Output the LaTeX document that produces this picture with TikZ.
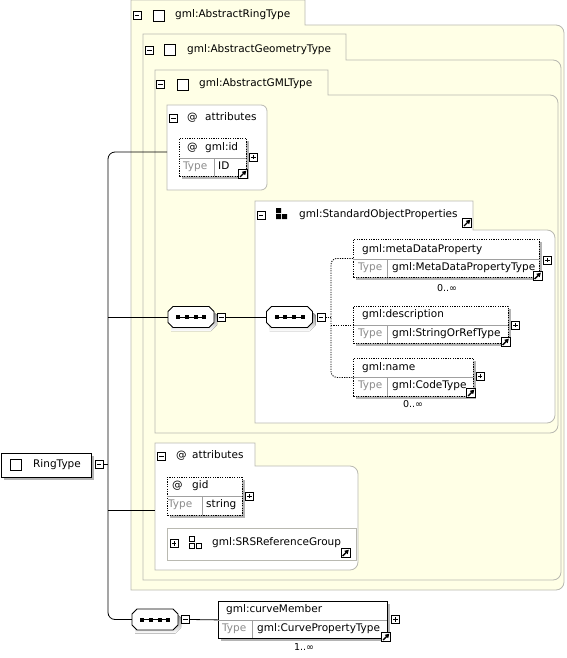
\documentclass[tikz,border=0pt]{standalone}
\usepackage{fontspec}
\setmainfont{DejaVu Sans}
\usetikzlibrary{shadows,arrows.meta}

\definecolor{panelfill}{HTML}{FFFFE6}
\definecolor{paneledge}{HTML}{B9B9B1}
\definecolor{shade}{HTML}{B4B4B4}
\definecolor{typegray}{HTML}{8C8C8C}
\definecolor{celledge}{HTML}{A0A0A0}

\tikzset{
  txt/.style={font=\fontsize{10.5}{12}\selectfont, inner sep=0pt, anchor=west, text height=7.5pt, text depth=2pt},
  typetxt/.style={txt, text=typegray},
  occurs/.style={txt, anchor=center, font=\fontsize{9.5}{11}\selectfont},
  panel/.style={draw=paneledge, fill=panelfill, line width=0.8pt},
  attrpanel/.style={draw=paneledge, fill=white, line width=0.8pt},
  dropshade/.style={drop shadow={shadow xshift=3pt, shadow yshift=-3pt, fill=shade, opacity=1}},
  elem/.style={draw, fill=white, line width=0.8pt, dash pattern=on 1.2pt off 1.2pt, anchor=north west, inner sep=0pt, dropshade},
  elemsolid/.style={elem, solid},
  cell/.style={draw=celledge, line width=0.8pt},
  chk/.style={draw, fill=white, line width=0.8pt, minimum size=11pt, inner sep=0pt},
  btnbox/.style={draw, fill=white, line width=0.6pt, minimum size=8pt, inner sep=0pt},
  minusbtn/.style={btnbox, path picture={\draw[line width=0.8pt] ([xshift=1.8pt]path picture bounding box.west) -- ([xshift=-1.8pt]path picture bounding box.east);}},
  plusbtn/.style={btnbox, path picture={\draw[line width=0.8pt] ([xshift=1.8pt]path picture bounding box.west) -- ([xshift=-1.8pt]path picture bounding box.east) ([yshift=-1.8pt]path picture bounding box.north) -- ([yshift=1.8pt]path picture bounding box.south);}},
  linkbtn/.style={draw, fill=white, line width=0.8pt, minimum size=9pt, inner sep=0pt, path picture={\draw[line width=1.4pt, -{Triangle[length=4pt,width=4.5pt]}] ([shift={(1.6pt,1.6pt)}]path picture bounding box.south west) -- ([shift={(-1.2pt,-1.2pt)}]path picture bounding box.north east);}},
  compositor/.pic={
    \fill[shade] (-20,-7) -- (20,-7) -- (26,-2) -- (26,8) -- (20,14) -- (-20,14) -- (-20,-7) -- cycle;
    \draw[fill=white, line width=0.8pt] (-18,-10.5) -- (18,-10.5) -- (23,-5.5) -- (23,5.5) -- (18,10.5) -- (-18,10.5) -- (-23,5.5) -- (-23,-5.5) -- cycle;
    \draw[line width=0.9pt] (-15,0) -- (15,0);
    \foreach \d in {-13,-4.5,4.5,13} \fill (\d-2,-2) rectangle +(4,4);
    \node[minimum width=46pt, minimum height=21pt, inner sep=0pt] (-box) at (0,0) {};
  },
  conn/.style={draw, line width=0.8pt},
  dotconn/.style={conn, dash pattern=on 1.2pt off 1.2pt},
}

\begin{document}
\begin{tikzpicture}[x=1pt, y=-1pt]
\useasboundingbox (0,0) rectangle (566,658);

% type panels
\draw[panel] (131,590) -- (131,0) -- (305,0) -- (305,25) -- (400,25) [rounded corners=8pt] -- (564,25) -- (564,590) -- (400,590) [sharp corners] -- cycle;
\draw[panel] (143,580) -- (143,34) -- (346,34) -- (346,60) -- (400,60) [rounded corners=8pt] -- (561,60) -- (561,580) -- (400,580) [sharp corners] -- cycle;
\draw[panel] (155,433) -- (155,70) -- (328,70) -- (328,95) -- (400,95) [rounded corners=8pt] -- (558,95) -- (558,433) -- (400,433) [sharp corners] -- cycle;
\draw[attrpanel] (255,423) -- (255,201) -- (473,201) -- (473,230) -- (500,230) [rounded corners=8pt] -- (555,230) -- (555,423) -- (500,423) [sharp corners] -- cycle;
\draw[attrpanel] (167,190) -- (167,105) -- (230,105) [rounded corners=6pt] -- (267,105) -- (267,190) -- (200,190) [sharp corners] -- cycle;
\draw[attrpanel] (155,570) -- (155,443) -- (255,443) -- (255,466) -- (300,466) [rounded corners=8pt] -- (358,466) -- (358,570) -- (300,570) [sharp corners] -- cycle;

% tabs
\node[minusbtn] (ringMinus) at (137,15) {};
\node[chk] (ringChk) at (159,15.5) {};
\node[txt] (ringTitle) at (175,15) {gml:AbstractRingType};
\node[minusbtn] (geomMinus) at (149.5,50) {};
\node[chk] (geomChk) at (170,50) {};
\node[txt] (geomTitle) at (187,50) {gml:AbstractGeometryType};
\node[minusbtn] (gmlMinus) at (160.5,84.5) {};
\node[chk] (gmlChk) at (182.5,85) {};
\node[txt] (gmlTitle) at (199,84) {gml:AbstractGMLType};
\node[minusbtn] (attrAMinus) at (173.5,118.5) {};
\node[txt] (attrAAt) at (187,118) {@};
\node[txt] (attrATitle) at (205,118) {attributes};
\node[minusbtn] (attrBMinus) at (161.5,456) {};
\node[txt] (attrBAt) at (176,456) {@};
\node[txt] (attrBTitle) at (192,456) {attributes};
\node[minusbtn] (sopMinus) at (261,215) {};
\fill (276,208) rectangle +(5,5) (276,214) rectangle +(5,5) (282,214) rectangle +(5,5);
\node[txt] (sopTitle) at (299,215) {gml:StandardObjectProperties};
\node[linkbtn] (sopLink) at (467,223) {};

% gml:id
\node[elem, minimum width=67pt, minimum height=38pt] (gmlId) at (179,138) {};
\draw[cell] (179,158) -- (246,158) (214,158) -- (214,176);
\node[txt] (gmlIdAt) at (187,148) {@};
\node[txt] (gmlIdName) at (205,148) {gml:id};
\node[typetxt] (gmlIdType) at (183,167) {Type};
\node[txt] (gmlIdVal) at (218,167) {ID};
\node[plusbtn] (gmlIdPlus) at (253.5,157) {};
\node[linkbtn] (gmlIdLink) at (243,174) {};

% sequences
\pic (seqA) at (191,317) {compositor};
\node[minusbtn] (seqAMinus) at (221.5,317) {};
\pic (seqB) at (289.5,317) {compositor};
\node[minusbtn] (seqBMinus) at (321,317) {};
\pic (seqC) at (155,619.5) {compositor};
\node[minusbtn] (seqCMinus) at (185.5,619.5) {};

% gml:metaDataProperty
\node[elem, minimum width=186pt, minimum height=38pt] (meta) at (353,239) {};
\draw[cell] (353,259) -- (539,259) (387,259) -- (387,277);
\node[txt] (metaName) at (362,250) {gml:metaDataProperty};
\node[typetxt] (metaType) at (358,268) {Type};
\node[txt] (metaVal) at (392,268) {gml:MetaDataPropertyType};
\node[plusbtn] (metaPlus) at (547.5,260) {};
\node[linkbtn] (metaLink) at (537.5,276) {};
\node[occurs] (metaOcc) at (447,289) {0..∞};

% gml:description
\node[elem, minimum width=155pt, minimum height=37pt] (desc) at (353,306) {};
\draw[cell] (353,325) -- (508,325) (387,325) -- (387,343);
\node[txt] (descName) at (362,315) {gml:description};
\node[typetxt] (descType) at (358,334) {Type};
\node[txt] (descVal) at (392,334) {gml:StringOrRefType};
\node[plusbtn] (descPlus) at (515.5,325) {};
\node[linkbtn] (descLink) at (505.5,342) {};

% gml:name
\node[elem, minimum width=120pt, minimum height=38pt] (name) at (353,358) {};
\draw[cell] (353,377) -- (473,377) (387,377) -- (387,396);
\node[txt] (nameName) at (362,368) {gml:name};
\node[typetxt] (nameType) at (358,386) {Type};
\node[txt] (nameVal) at (392,386) {gml:CodeType};
\node[plusbtn] (namePlus) at (480,376) {};
\node[linkbtn] (nameLink) at (471,393) {};
\node[occurs] (nameOcc) at (413,405) {0..∞};

% gid
\node[elem, minimum width=75pt, minimum height=38pt] (gid) at (167,477) {};
\draw[cell] (167,496) -- (242,496) (202,496) -- (202,515);
\node[txt] (gidAt) at (172,486) {@};
\node[txt] (gidName) at (192,486) {gid};
\node[typetxt] (gidType) at (168,505) {Type};
\node[txt] (gidVal) at (206,505) {string};
\node[plusbtn] (gidPlus) at (249.5,496) {};

% gml:SRSReferenceGroup
\node[draw=paneledge, fill=white, line width=0.8pt, anchor=north west, minimum width=189pt, minimum height=32pt] (srs) at (167,528) {};
\node[plusbtn] (srsPlus) at (174,543.5) {};
\draw[line width=0.7pt] (189.5,536.5) rectangle +(5,5) (189.5,543.5) rectangle +(5,5) (196.5,543.5) rectangle +(5,5);
\node[txt] (srsName) at (212,543) {gml:SRSReferenceGroup};
\node[linkbtn] (srsLink) at (345.5,553) {};

% gml:curveMember
\node[elemsolid, minimum width=169pt, minimum height=37pt] (curve) at (218,601) {};
\draw[cell] (218,620) -- (387,620) (252,620) -- (252,638);
\node[txt] (curveName) at (226,610) {gml:curveMember};
\node[typetxt] (curveType) at (222,629) {Type};
\node[txt] (curveVal) at (257,629) {gml:CurvePropertyType};
\node[plusbtn] (curvePlus) at (395.5,619.5) {};
\node[linkbtn] (curveLink) at (386,637) {};
\node[occurs] (curveOcc) at (304,648) {1..∞};

% RingType
\node[elemsolid, minimum width=90pt, minimum height=24pt] (ring) at (0.5,453) {};
\node[chk] (ringTypeChk) at (15.5,465) {};
\node[txt] (ringTypeName) at (33,465) {RingType};
\node[minusbtn] (ringTypeMinus) at (99,464) {};

% connectors
\coordinate (attrAin) at (167,152);
\coordinate (attrBin) at (155,510);
\coordinate (busTop) at (108,152);
\coordinate (busBot) at (108,619.5);
\draw[conn, rounded corners=7pt] (attrAin) -- (busTop) -- (busBot) -- (seqC-box.west);
\draw[conn] (ringTypeMinus.east) -- (ringTypeMinus.east -| busTop);
\draw[conn] (seqA-box.west -| busTop) -- (seqA-box.west);
\draw[conn] (attrBin -| busTop) -- (attrBin);
\draw[conn] (seqAMinus.east) -- (seqB-box.west);
\draw[conn] (seqCMinus.east) -- (curve.west);
\coordinate (sbus) at (331,317);
\draw[dotconn] (seqBMinus.east) -- (sbus);
\draw[dotconn, rounded corners=6pt] (meta.west) -| (sbus) |- (name.west);
\draw[dotconn] (sbus |- desc.west) -- (desc.west);
\end{tikzpicture}
\end{document}
